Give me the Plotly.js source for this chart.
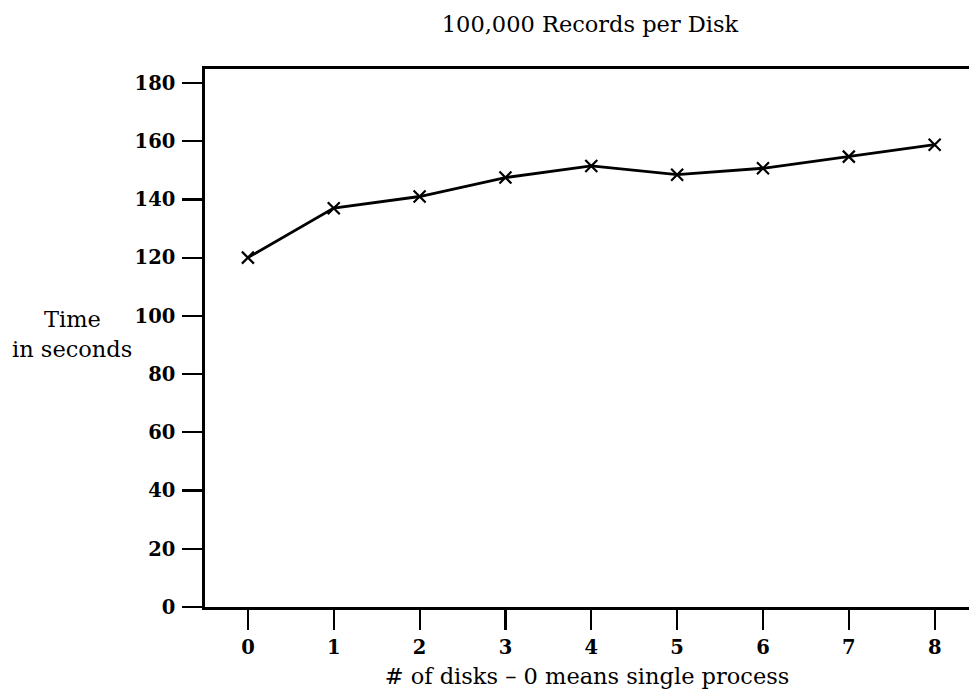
<!DOCTYPE html>
<html>
<head>
<meta charset="utf-8">
<script src="https://cdn.plot.ly/plotly-3.0.1.min.js"></script>
<style>html,body{margin:0;padding:0;background:#fff;}#chart{width:969px;height:698px;}</style>
</head>
<body>
<div id="chart"></div>
<script>
const disks = [0, 1, 2, 3, 4, 5, 6, 7, 8];
const timeSeconds = [120, 137, 141, 147.5, 151.5, 148.5, 150.7, 154.7, 158.8];
const xTicks = [0, 1, 2, 3, 4, 5, 6, 7, 8];
const yTicks = [0, 20, 40, 60, 80, 100, 120, 140, 160, 180];
const chartTitle = "100,000 Records per Disk";
const xTitle = "# of disks \u2013 0 means single process";
const yTitleLines = ["Time", "in seconds"];

const FONT = "DejaVu Serif, Liberation Serif, serif";
const TXT = 22.5;
const TICK = 19.5;

const trace = {
  x: disks,
  y: timeSeconds,
  type: "scatter",
  mode: "lines+markers",
  line: {color: "#000", width: 2.8},
  marker: {symbol: "x-thin-open", size: 12, color: "#000", line: {color: "#000", width: 2.2}},
  hoverinfo: "skip",
  cliponaxis: false
};

const layout = {
  width: 969,
  height: 698,
  margin: {l: 205, r: 0, t: 69, b: 91, pad: 0},
  paper_bgcolor: "#fff",
  plot_bgcolor: "#fff",
  showlegend: false,
  font: {family: FONT, size: TXT, color: "#000"},
  title: {
    text: chartTitle,
    font: {family: FONT, size: TXT, color: "#000"},
    xref: "container", yref: "container",
    x: 590 / 969, xanchor: "center",
    y: 1 - 24 / 698, yanchor: "middle"
  },
  xaxis: {
    range: [-0.5, 8.4],
    tickvals: xTicks,
    ticktext: xTicks.map(String),
    ticks: "outside",
    ticklen: 20,
    tickwidth: 2.2,
    tickcolor: "#000",
    ticklabelstandoff: 1,
    showline: true,
    linecolor: "#000",
    linewidth: 2.8,
    mirror: true,
    showgrid: false,
    zeroline: false,
    fixedrange: true,
    tickfont: {family: FONT, size: TICK, color: "#000", weight: "bold"},
    title: {text: xTitle, font: {family: FONT, size: TXT, color: "#000"}, standoff: 10}
  },
  yaxis: {
    range: [0, 184.8],
    tickvals: yTicks,
    ticktext: yTicks.map(String),
    ticks: "outside",
    ticklen: 20,
    tickwidth: 2.2,
    tickcolor: "#000",
    ticklabelstandoff: 3,
    showline: true,
    linecolor: "#000",
    linewidth: 2.8,
    mirror: false,
    showgrid: false,
    zeroline: false,
    fixedrange: true,
    tickfont: {family: FONT, size: TICK, color: "#000", weight: "bold"}
  },
  annotations: [
    {text: yTitleLines[0], xref: "paper", yref: "paper", x: (72 - 205) / 764, y: (607 - 319) / 538,
     xanchor: "center", yanchor: "middle", showarrow: false, font: {family: FONT, size: TXT, color: "#000"}},
    {text: yTitleLines[1], xref: "paper", yref: "paper", x: (72 - 205) / 764, y: (607 - 349) / 538,
     xanchor: "center", yanchor: "middle", showarrow: false, font: {family: FONT, size: TXT, color: "#000"}}
  ]
};

Plotly.newPlot("chart", [trace], layout, {staticPlot: true, displayModeBar: false});
</script>
</body>
</html>
